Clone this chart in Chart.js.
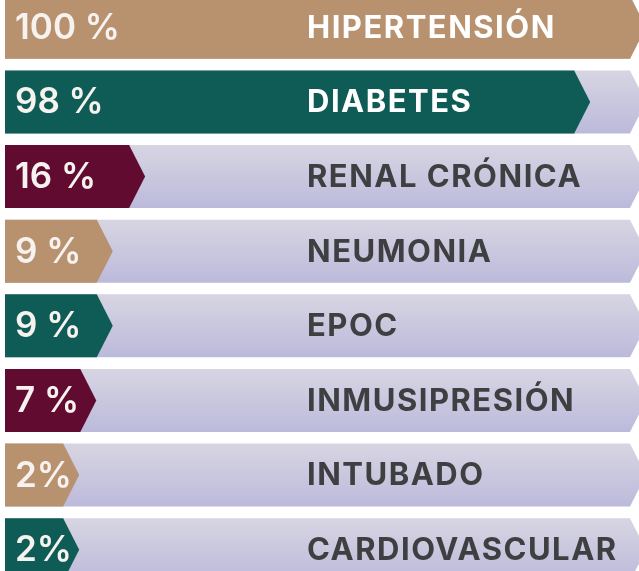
<!DOCTYPE html>
<html>
<head>
<meta charset="utf-8">
<script src="https://cdn.jsdelivr.net/npm/chart.js@4"></script>
<style>
  html, body { margin: 0; padding: 0; background: #ffffff; overflow: hidden; width: 639px; height: 571px; }
  #wrap { position: absolute; left: 0; top: -10px; width: 660px; height: 597px; }
</style>
</head>
<body>
<div id="wrap"><canvas id="barChart"></canvas></div>
<script>
// Data
const categories = ["HIPERTENSIÓN", "DIABETES", "RENAL CRÓNICA", "NEUMONIA", "EPOC", "INMUSIPRESIÓN", "INTUBADO", "CARDIOVASCULAR"];
const percentValues = [100, 98, 16, 9, 9, 7, 2, 2];
const percentLabels = ["100 %", "98 %", "16 %", "9 %", "9 %", "7 %", "2%", "2%"];
// how far each arrow reaches on the drawn track (0-100 of the visible width)
const arrowReach = [101.1, 92.3, 22.1, 17.0, 17.0, 14.4, 11.7, 11.7];
const trackReach = [101.1, 101.1, 101.1, 101.1, 101.1, 101.1, 101.1, 101.1];

const TAN = "#b8916e";
const GREEN = "#0e5c55";
const MAROON = "#620b30";
const barColors = [TAN, GREEN, MAROON, TAN, GREEN, MAROON, TAN, GREEN];

const TIP = 16; // arrow point depth in px

// Helper: draw a chevron shaped bar from the element props
function chevronPath(ctx, el) {
  const top = el.y - el.height / 2;
  const bottom = el.y + el.height / 2;
  const left = Math.min(el.base, el.x);
  const right = Math.max(el.base, el.x);
  ctx.beginPath();
  ctx.moveTo(left, top);
  ctx.lineTo(right - TIP, top);
  ctx.lineTo(right, el.y);
  ctx.lineTo(right - TIP, bottom);
  ctx.lineTo(left, bottom);
  ctx.closePath();
}

const chevronPlugin = {
  id: "chevrons",
  afterDatasetsDraw(chart) {
    const ctx = chart.ctx;
    const trackMeta = chart.getDatasetMeta(0);
    const arrowMeta = chart.getDatasetMeta(1);

    ctx.save();
    // track bars
    trackMeta.data.forEach((el) => {
      const top = el.y - el.height / 2;
      const bottom = el.y + el.height / 2;
      const grad = ctx.createLinearGradient(0, top, 0, bottom);
      grad.addColorStop(0, "#d7d5e2");
      grad.addColorStop(1, "#bcbadb");
      chevronPath(ctx, el);
      ctx.fillStyle = grad;
      ctx.fill();
    });

    // value arrows
    arrowMeta.data.forEach((el, i) => {
      chevronPath(ctx, el);
      ctx.fillStyle = barColors[i];
      ctx.fill();
    });

    // texts
    ctx.textBaseline = "middle";
    ctx.textAlign = "left";
    arrowMeta.data.forEach((el, i) => {
      ctx.letterSpacing = "0px";
      ctx.fillStyle = "#f6f2ef";
      ctx.font = "600 35px Inter";
      ctx.fillText(percentLabels[i], 15, el.y + 1);

      ctx.letterSpacing = "1.5px";
      ctx.fillStyle = i < 2 ? "#ffffff" : "#3f3f42";
      ctx.font = "700 31px Inter";
      ctx.fillText(categories[i], 307, el.y + 1);
    });
    ctx.restore();
  },
};

new Chart(document.getElementById("barChart"), {
  type: "bar",
  data: {
    labels: categories,
    datasets: [
      {
        label: "track",
        data: trackReach,
        backgroundColor: "transparent",
        barPercentage: 0.845,
        categoryPercentage: 1,
      },
      {
        label: "valor",
        data: arrowReach,
        backgroundColor: "transparent",
        barPercentage: 0.845,
        categoryPercentage: 1,
      },
    ],
  },
  options: {
    indexAxis: "y",
    responsive: true,
    maintainAspectRatio: false,
    animation: false,
    layout: { padding: { left: 5, right: 21, top: 0, bottom: 0 } },
    datasets: { bar: { grouped: false } },
    plugins: {
      legend: { display: false },
      tooltip: { enabled: false },
    },
    scales: {
      x: { display: false, min: 0, max: 100 },
      y: { display: false },
    },
  },
  plugins: [chevronPlugin],
});
</script>
</body>
</html>
